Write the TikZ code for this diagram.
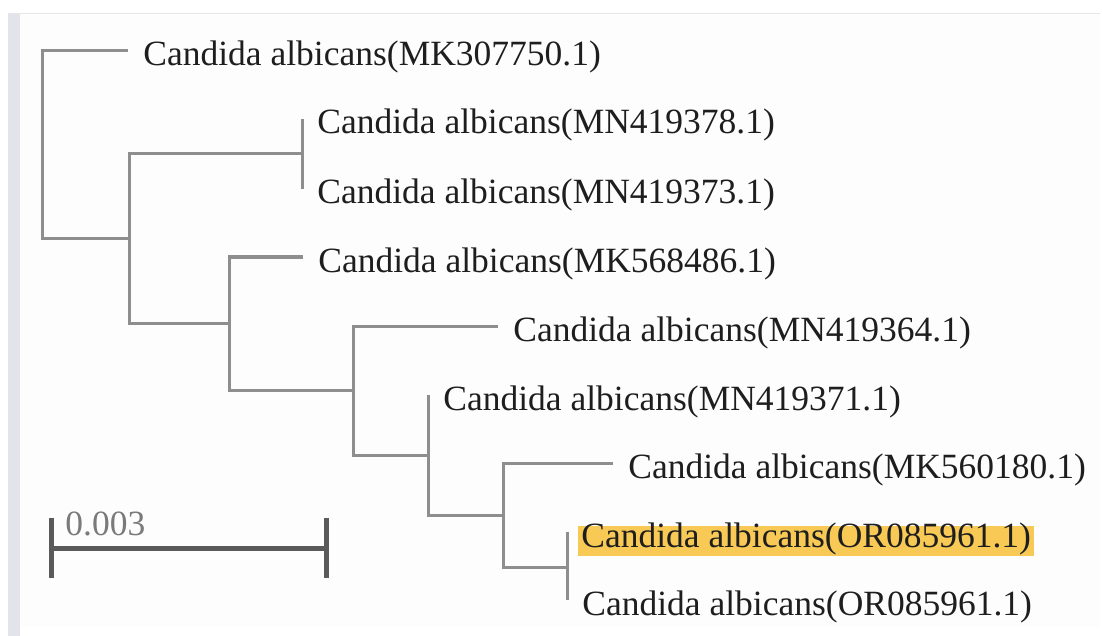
\documentclass[tikz,border=0pt]{standalone}
\usepackage{fontspec}
\setmainfont{Liberation Serif}
\usetikzlibrary{calc}
\definecolor{Branch}{HTML}{8E8E8E}
\definecolor{Ink}{HTML}{1E1E1E}
\definecolor{ScaleInk}{HTML}{5A5A5A}
\definecolor{ScaleText}{HTML}{7A7A7A}
\definecolor{Mark}{HTML}{F8CA55}
\definecolor{Edge}{HTML}{E3E3EC}
\definecolor{Paper}{HTML}{FDFDFD}
\definecolor{Rule}{HTML}{E6E6E6}
\tikzset{
  branch/.style={draw=Branch,line width=1.5pt},
  taxon/.style={anchor=base west,inner sep=0pt,xshift=7.5pt,yshift=-7.5pt,text=Ink,font=\fontsize{17.75}{20}\selectfont},
  picked/.style={anchor=base west,inner ysep=0pt,inner xsep=1.5pt,xshift=5.5pt,yshift=-7.5pt,fill=Mark,text=Ink,text height=10.5pt,text depth=4.5pt,font=\fontsize{17.75}{20}\selectfont},
  scalebar/.style={draw=ScaleInk,line width=2.5pt},
  scalelabel/.style={anchor=base west,inner sep=0pt,text=ScaleText,font=\fontsize{17.75}{20}\selectfont}
}
\begin{document}
\begin{tikzpicture}[x=0.5pt,y=-0.5pt]
  \useasboundingbox (0,0) rectangle (1102,636);
  \fill[white] (0,0) rectangle (1102,636);
  \fill[Paper] (8,14) rectangle (1100,627);
  \fill[Edge] (8,14) rectangle (20,636);
  \draw[Rule,line width=.5pt] (8,14) -- (1100,14);

  \coordinate (root) at (42,144.5);
  \coordinate (nA) at (129,238.5);
  \coordinate (nB) at (302,154);
  \coordinate (nC) at (229,323);
  \coordinate (nD) at (353,390.5);
  \coordinate (nE) at (428,455);
  \coordinate (nF) at (503,515);
  \coordinate (nG) at (567,567);

  \coordinate (tMK307750) at (128,51);
  \coordinate (tMN419378) at (302,119);
  \coordinate (tMN419373) at (302,189);
  \coordinate (tMK568486) at (303,257);
  \coordinate (tMN419364) at (498,326);
  \coordinate (tMN419371) at (428,395);
  \coordinate (tMK560180) at (613,463);
  \coordinate (tOR085961a) at (567,532);
  \coordinate (tOR085961b) at (567,600);

  \node[picked] (OR085961a) at (tOR085961a) {Candida albicans(OR085961.1)};
  \node[taxon] (MK307750) at (tMK307750) {Candida albicans(MK307750.1)};
  \node[taxon] (MN419378) at (tMN419378) {Candida albicans(MN419378.1)};
  \node[taxon] (MN419373) at (tMN419373) {Candida albicans(MN419373.1)};
  \node[taxon] (MK568486) at (tMK568486) {Candida albicans(MK568486.1)};
  \node[taxon] (MN419364) at (tMN419364) {Candida albicans(MN419364.1)};
  \node[taxon] (MN419371) at (tMN419371) {Candida albicans(MN419371.1)};
  \node[taxon] (MK560180) at (tMK560180) {Candida albicans(MK560180.1)};
  \node[taxon] (OR085961b) at (tOR085961b) {Candida albicans(OR085961.1)};

  \draw[branch] (root) |- (tMK307750);
  \draw[branch] (root) |- (nA);
  \draw[branch] (nA) |- (nB);
  \draw[branch] (nA) |- (nC);
  \draw[branch] (nB) |- (tMN419378);
  \draw[branch] (nB) |- (tMN419373);
  \draw[branch] (nC) |- (tMK568486);
  \draw[branch] (nC) |- (nD);
  \draw[branch] (nD) |- (tMN419364);
  \draw[branch] (nD) |- (nE);
  \draw[branch] (nE) |- (tMN419371);
  \draw[branch] (nE) |- (nF);
  \draw[branch] (nF) |- (tMK560180);
  \draw[branch] (nF) |- (nG);
  \draw[branch] (nG) |- (tOR085961a);
  \draw[branch] (nG) |- (tOR085961b);

  \coordinate (sbL) at (51,548);
  \coordinate (sbR) at (326,548);
  \draw[scalebar] (sbL) -- (sbR);
  \draw[scalebar] ($(sbL)+(0,-30)$) -- ($(sbL)+(0,30)$);
  \draw[scalebar] ($(sbR)+(0,-30)$) -- ($(sbR)+(0,30)$);
  \node[scalelabel] (scaleval) at ($(sbL)+(14,-13)$) {0.003};
\end{tikzpicture}
\end{document}
